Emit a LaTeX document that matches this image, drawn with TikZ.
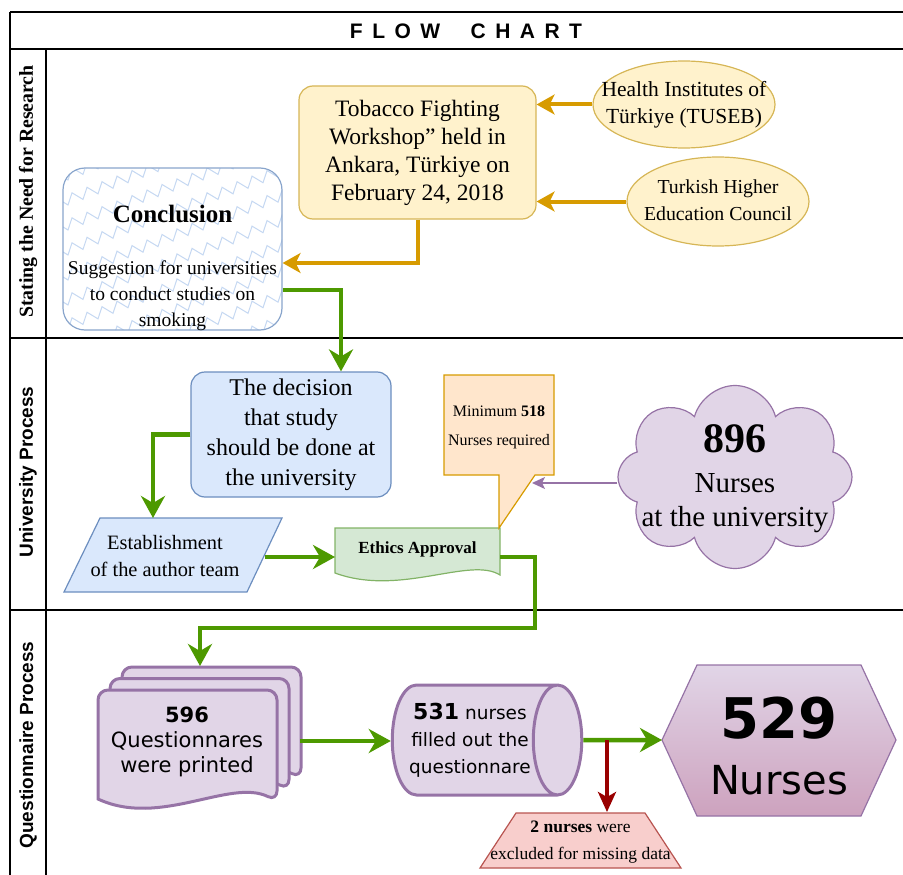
\documentclass[tikz,border=0pt]{standalone}
\usepackage{fontspec}
\setmainfont{Liberation Serif}
\newfontfamily\versans{DejaVu Sans}
\newfontfamily\arsans{Liberation Sans}
\usetikzlibrary{shapes.geometric,shapes.symbols,arrows.meta,calc,decorations.pathmorphing}
\definecolor{ylwfill}{HTML}{FFF2CC}
\definecolor{ylwline}{HTML}{D6B656}
\definecolor{orgline}{HTML}{D79B00}
\definecolor{orgfill}{HTML}{FFE6CC}
\definecolor{blufill}{HTML}{DAE8FC}
\definecolor{bluline}{HTML}{6C8EBF}
\definecolor{grnfill}{HTML}{D5E8D4}
\definecolor{grnline}{HTML}{82B366}
\definecolor{grnarrow}{HTML}{4D9900}
\definecolor{purfill}{HTML}{E1D5E7}
\definecolor{purline}{HTML}{9673A6}
\definecolor{purdark}{HTML}{CDA2BE}
\definecolor{redfill}{HTML}{F8CECC}
\definecolor{redline}{HTML}{B85450}
\definecolor{redarrow}{HTML}{990000}
\definecolor{zigblue}{HTML}{C5D8F2}
\newcommand{\zerow}[1]{\makebox[0pt]{\begin{tabular}{@{}c@{}}#1\end{tabular}}}
\newcommand{\qdoc}[2]{\draw[qdocline, rounded corners=10pt] (#1,#2+109) -- (#1,#2) -- (#1+179,#2) -- (#1+179,#2+111) [sharp corners] .. controls (#1+132,#2+88) and (#1+62,#2+138) .. (#1,#2+109) -- cycle;}
\tikzset{
  lane/.style={line width=2pt},
  ylwbox/.style={draw=ylwline, fill=ylwfill, line width=1.2pt},
  blubox/.style={draw=bluline, fill=blufill, line width=1.2pt},
  qdocline/.style={draw=purline, fill=purfill, line width=3pt},
  garrow/.style={draw=grnarrow, line width=4.5pt, -{Stealth[length=22pt,width=24pt,inset=7pt]}},
  oarrow/.style={draw=orgline, line width=4pt, -{Stealth[length=18pt,width=20pt,inset=5pt]}},
  parrow/.style={draw=purline, line width=1.5pt, -{Stealth[length=13pt,width=12pt,inset=3pt]}},
  rarrow/.style={draw=redarrow, line width=4pt, -{Stealth[length=20pt,width=18pt,inset=5pt]}}
}
\begin{document}
\begin{tikzpicture}[x=1pt,y=-1pt]
\useasboundingbox (0,0) rectangle (903,875);
\draw[lane] (10,12) -- (903,12);
\draw[lane] (10,49) -- (903,49);
\draw[lane] (10,338) -- (903,338);
\draw[lane] (10,610) -- (903,610);
\draw[lane] (10,12) -- (10,875);
\draw[lane] (46,49) -- (46,875);
\node[font=\arsans\bfseries\fontsize{21}{24}\selectfont\addfontfeature{LetterSpace=45}] (ttl) at (466,31) {FLOW\ \ CHART};
\node[rotate=90, font=\fontsize{19.8}{22}\selectfont\bfseries] (lane1) at (28,191.5) {Stating the Need for Research};
\node[rotate=90, font=\arsans\bfseries\fontsize{19}{22}\selectfont] (lane2) at (28,472) {University Process};
\node[rotate=90, font=\arsans\bfseries\fontsize{19}{22}\selectfont] (lane3) at (28,745) {Questionnaire Process};

\node[ylwbox, rounded corners=14pt, minimum width=237pt, minimum height=133pt, align=center, font=\fontsize{23.5}{28}\selectfont] (tob) at (417.5,152.5) {Tobacco Fighting\\Workshop” held in\\Ankara, Türkiye on\\February 24, 2018};
\node[ellipse, ylwbox, minimum width=182pt, minimum height=87pt, inner sep=0pt, font=\fontsize{21.5}{27}\selectfont] (hlth) at (684,104.5) {\zerow{Health Institutes of\\Türkiye (TUSEB)}};
\node[ellipse, ylwbox, minimum width=182pt, minimum height=89pt, inner sep=0pt, font=\fontsize{19.8}{27}\selectfont] (turk) at (718,201.5) {\zerow{Turkish Higher\\Education Council}};

\begin{scope}
\clip[rounded corners=22pt] (63,168) rectangle (282,330);
\fill[white] (63,168) rectangle (282,330);
\foreach \k in {0,...,13}
  \draw[zigblue, line width=1pt, decorate, decoration={zigzag, segment length=16pt, amplitude=5pt}] (40,185+\k*25) -- ++(270,-100);
\end{scope}
\node[draw=bluline!80, line width=1.2pt, rounded corners=22pt, minimum width=219pt, minimum height=162pt] (concl) at (172.5,249) {};
\node[align=center, font=\fontsize{19.5}{26}\selectfont] (concltxt) at (172.5,268) {{\fontsize{25}{30}\selectfont\bfseries Conclusion}\\[26pt]Suggestion for universities\\to conduct studies on\\smoking};

\node[blubox, rounded corners=14pt, minimum width=200pt, minimum height=125pt, align=center, font=\fontsize{24}{30}\selectfont] (dec) at (291,434.5) {The decision\\that study\\should be done at\\the university};
\draw[blubox] (64,592) -- (100,518) -- (282,518) -- (247,592) -- cycle;
\node[align=center, font=\fontsize{20.4}{27}\selectfont] (est) at (165,556) {Establishment\\of the author team};
\coordinate (esttop) at (153,518);
\coordinate (estE) at (265,557);

\draw[draw=grnline, fill=grnfill, line width=1.2pt] (335,528) -- (500,528) -- (500,575) .. controls (470,556) and (400,597) .. (335,573) -- cycle;
\node[font=\fontsize{17}{20}\selectfont\bfseries] (eth) at (417.5,549) {Ethics Approval};
\coordinate (ethW) at (335,557);
\coordinate (ethE) at (500,557);

\draw[draw=orgline, fill=orgfill, line width=1.2pt] (444,375) -- (554,375) -- (554,475) -- (535,475) -- (499,528) -- (499,475) -- (444,475) -- cycle;
\node[align=center, font=\fontsize{16}{29}\selectfont] (call) at (499,427) {Minimum \textbf{518}\\Nurses required};
\coordinate (calltip) at (532,483);

\node[cloud, cloud puffs=8, aspect=1.3, draw=purline, fill=purfill, line width=1.2pt, minimum width=234pt, minimum height=183pt, inner sep=0pt] (cld) at (735,477) {};
\node[align=center, font=\fontsize{29}{34}\selectfont] (cldtxt) at (735,478.5) {{\fontsize{42}{44}\selectfont\bfseries 896}\\[6pt]Nurses\\at the university};

\qdoc{122}{667}
\qdoc{110}{678.5}
\qdoc{98}{690}
\node[align=center, font=\versans\fontsize{21}{25}\selectfont] (qdoc) at (187,742) {\textbf{596}\\Questionnares\\were printed};
\coordinate (qtop) at (200,666);
\coordinate (qE) at (300,741);

\node[cylinder, shape aspect=0.6, draw=purline, fill=purfill, line width=3pt, minimum width=110pt, minimum height=162pt, inner xsep=1pt, align=center, font=\versans\fontsize{18.5}{27}\selectfont] (cyl) at (470,740) {{\fontsize{22}{27}\selectfont\bfseries 531} nurses\\filled out the\\questionnare};

\shade[top color=purfill, bottom color=purdark, draw=purline, line width=1.2pt] (662,740) -- (697,665) -- (861,665) -- (896,740) -- (861,816) -- (697,816) -- cycle;
\node[align=center, font=\versans\fontsize{40}{46}\selectfont] (hex) at (779,746) {{\fontsize{56}{60}\selectfont\bfseries 529}\\[10pt]Nurses};
\coordinate (hexW) at (662,740);
\coordinate (rsplit) at (607,740);

\draw[draw=redline, fill=redfill, line width=1.2pt] (480,868) -- (516,813) -- (645,813) -- (681,868) -- cycle;
\node[align=center, font=\fontsize{17.5}{27}\selectfont] (trap) at (580.5,842.5) {\textbf{2 nurses} were\\excluded for missing data};
\coordinate (traptop) at (607,812);

\draw[oarrow] (hlth.west) -- (hlth.west -| tob.east);
\draw[oarrow] (turk.west) -- (turk.west -| tob.east);
\draw[oarrow] (tob.south) |- ($(concl.east)+(0,14)$);
\draw[garrow] ($(concl.east)+(0,41)$) -| ($(dec.north)+(50,0)$);
\draw[garrow] (dec.west) -| (esttop);
\draw[garrow] (estE) -- (ethW);
\draw[garrow] (ethE) -- ++(35,0) |- ($(qtop)+(0,-38)$) -- (qtop);
\draw[parrow] (cld.west |- calltip) -- (calltip);
\draw[garrow] (qE) -- (qE -| cyl.west);
\draw[garrow] (cyl.east) -- (hexW);
\draw[rarrow] (rsplit) -- (traptop);
\end{tikzpicture}
\end{document}
